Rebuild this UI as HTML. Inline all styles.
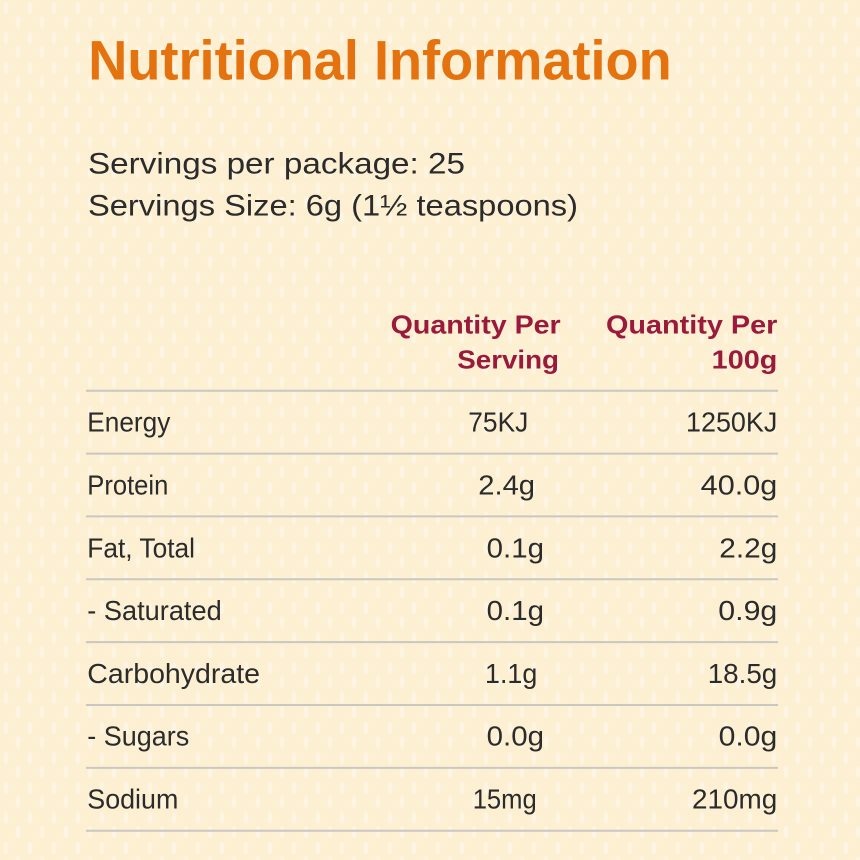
<!DOCTYPE html>
<html>
<head>
<meta charset="utf-8">
<style>
  html, body { margin:0; padding:0; }
  body { width:860px; height:860px; overflow:hidden; background:#FCF0D5; }
  svg { display:block; }
  .t { font-family:"Liberation Sans", sans-serif; }
</style>
</head>
<body>
<svg width="860" height="860" viewBox="0 0 860 860" xmlns="http://www.w3.org/2000/svg">
  <defs>
    <pattern id="tex" width="24" height="30" patternUnits="userSpaceOnUse">
      <rect width="24" height="30" fill="#FCEFD2"/>
      <ellipse cx="6" cy="8" rx="2.5" ry="6" fill="#FEF6E6" opacity="0.8"/>
      <ellipse cx="18" cy="22" rx="2.5" ry="6" fill="#FEF6E6" opacity="0.8"/>
    </pattern>
  </defs>
  <rect width="860" height="860" fill="url(#tex)"/>

  <!-- Title -->
  <text class="t" x="88.3" y="79.5" font-size="56" font-weight="700" fill="#E4720F" textLength="583.4" lengthAdjust="spacingAndGlyphs">Nutritional Information</text>

  <!-- Servings -->
  <g class="t" font-size="30" fill="#2B2B2B">
    <text x="88" y="173.5" textLength="377" lengthAdjust="spacingAndGlyphs">Servings per package: 25</text>
    <text x="88" y="215.5" textLength="490" lengthAdjust="spacingAndGlyphs">Servings Size: 6g (1½ teaspoons)</text>
  </g>

  <!-- Headers -->
  <g class="t" font-size="26" font-weight="700" fill="#9A1A3C">
    <text x="390.7" y="333.3" textLength="170" lengthAdjust="spacingAndGlyphs">Quantity Per</text>
    <text x="457.3" y="368.3" textLength="101.7" lengthAdjust="spacingAndGlyphs">Serving</text>
    <text x="606" y="333.3" textLength="171.3" lengthAdjust="spacingAndGlyphs">Quantity Per</text>
    <text x="711.7" y="368.3" textLength="65.6" lengthAdjust="spacingAndGlyphs">100g</text>
  </g>

  <!-- Lines -->
  <g stroke="#CAC7C1" stroke-width="2">
    <line x1="86" y1="390.7" x2="778" y2="390.7"/>
    <line x1="86" y1="453.6" x2="778" y2="453.6"/>
    <line x1="86" y1="516.4" x2="778" y2="516.4"/>
    <line x1="86" y1="579.3" x2="778" y2="579.3"/>
    <line x1="86" y1="642.1" x2="778" y2="642.1"/>
    <line x1="86" y1="705.0" x2="778" y2="705.0"/>
    <line x1="86" y1="767.9" x2="778" y2="767.9"/>
    <line x1="86" y1="830.7" x2="778" y2="830.7"/>
  </g>

  <!-- Rows -->
  <g class="t" font-size="28" fill="#2B2B2B">
    <!-- Energy -->
    <text x="87.3" y="431.7" textLength="83" lengthAdjust="spacingAndGlyphs">Energy</text>
    <text x="468.3" y="431.7" textLength="60" lengthAdjust="spacingAndGlyphs">75KJ</text>
    <text x="686" y="431.7" textLength="91.3" lengthAdjust="spacingAndGlyphs">1250KJ</text>
    <!-- Protein -->
    <text x="87.3" y="494.5" textLength="81" lengthAdjust="spacingAndGlyphs">Protein</text>
    <text x="478.3" y="494.5" textLength="56.7" lengthAdjust="spacingAndGlyphs">2.4g</text>
    <text x="700.7" y="494.5" textLength="76.6" lengthAdjust="spacingAndGlyphs">40.0g</text>
    <!-- Fat -->
    <text x="87.3" y="557.3" textLength="107.7" lengthAdjust="spacingAndGlyphs">Fat, Total</text>
    <text x="486.7" y="557.3" textLength="57.3" lengthAdjust="spacingAndGlyphs">0.1g</text>
    <text x="719.3" y="557.3" textLength="58" lengthAdjust="spacingAndGlyphs">2.2g</text>
    <!-- Saturated -->
    <text x="87.3" y="620.1" textLength="134.4" lengthAdjust="spacingAndGlyphs">- Saturated</text>
    <text x="486.7" y="620.1" textLength="57.3" lengthAdjust="spacingAndGlyphs">0.1g</text>
    <text x="718.3" y="620.1" textLength="59" lengthAdjust="spacingAndGlyphs">0.9g</text>
    <!-- Carbohydrate -->
    <text x="87.3" y="683.0" textLength="172.7" lengthAdjust="spacingAndGlyphs">Carbohydrate</text>
    <text x="485" y="683.0" textLength="52.3" lengthAdjust="spacingAndGlyphs">1.1g</text>
    <text x="707.7" y="683.0" textLength="69.6" lengthAdjust="spacingAndGlyphs">18.5g</text>
    <!-- Sugars -->
    <text x="87.3" y="745.6" textLength="102" lengthAdjust="spacingAndGlyphs">- Sugars</text>
    <text x="486.7" y="745.6" textLength="57.3" lengthAdjust="spacingAndGlyphs">0.0g</text>
    <text x="718.6" y="745.6" textLength="58.7" lengthAdjust="spacingAndGlyphs">0.0g</text>
    <!-- Sodium -->
    <text x="87.3" y="808.5" textLength="91" lengthAdjust="spacingAndGlyphs">Sodium</text>
    <text x="472.7" y="808.5" textLength="64" lengthAdjust="spacingAndGlyphs">15mg</text>
    <text x="692" y="808.5" textLength="85.3" lengthAdjust="spacingAndGlyphs">210mg</text>
  </g>
</svg>
</body>
</html>
